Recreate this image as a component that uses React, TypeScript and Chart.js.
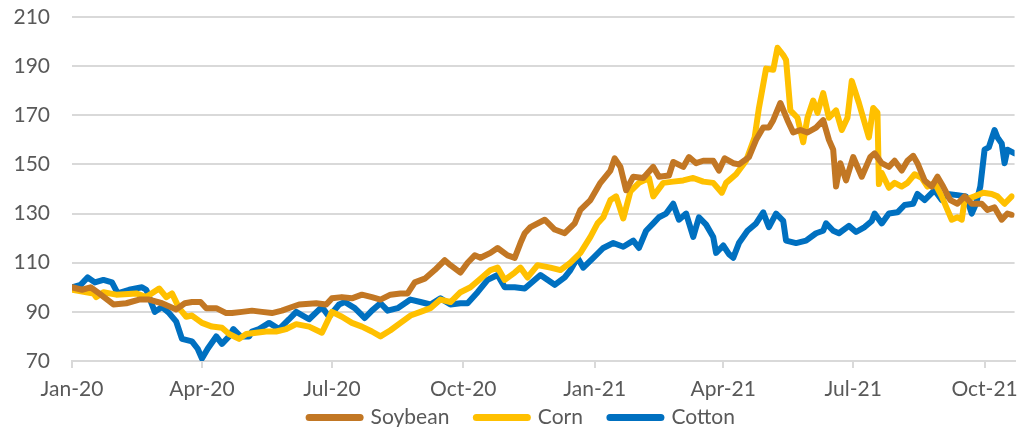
import { useEffect, useRef } from "react";
import { Chart, registerables } from "chart.js";

Chart.register(...registerables);

// Day offsets are counted from 1 Jan 2020
const tickDays = [0, 91, 182, 274, 366, 456, 547, 639];
const tickLabels = ["Jan-20", "Apr-20", "Jul-20", "Oct-20", "Jan-21", "Apr-21", "Jul-21", "Oct-21"];
const yTicks = [70, 90, 110, 130, 150, 170, 190, 210];

const soybeanDays = [0, 7, 13, 19, 29, 38, 47, 54, 63, 73, 79, 84, 90, 94, 101, 108, 112, 119, 126, 133, 140, 147, 154, 159, 171, 178, 182, 189, 196, 203, 210, 216, 223, 230, 235, 240, 247, 254, 261, 265, 272, 277, 282, 286, 293, 298, 305, 310, 314, 317, 321, 331, 338, 345, 352, 356, 363, 370, 377, 380, 384, 388, 393, 400, 407, 411, 418, 421, 428, 432, 437, 442, 449, 453, 457, 463, 467, 474, 479, 484, 488, 491, 496, 501, 505, 510, 515, 521, 526, 530, 533, 535, 538, 542, 547, 553, 559, 562, 567, 572, 576, 581, 585, 589, 592, 597, 602, 606, 610, 615, 620, 625, 630, 637, 641, 646, 651, 655, 658];
const soybeanValues = [100, 99, 100, 97.5, 93, 93.5, 95, 95, 93.5, 91, 93.5, 94, 94, 91.5, 91.5, 89.5, 89.5, 90, 90.5, 90, 89.5, 90.5, 92, 93, 93.5, 93, 95.5, 96, 95.5, 97, 96, 95, 97, 97.5, 97.5, 102, 103.5, 107, 111, 109, 106, 110, 113, 112, 114, 116, 113, 112, 118, 122, 124.5, 127.5, 123.5, 122, 126, 131.5, 135.5, 142.5, 147.5, 152.5, 149, 139.5, 145, 144.5, 149, 145, 145.5, 151, 149, 153, 150.5, 151.5, 151.5, 147.5, 152.5, 150.5, 150, 153, 160, 165, 165, 168, 175, 168, 163, 164, 163, 165, 168, 160, 156, 141, 150.5, 143.5, 153, 145, 153, 154.5, 150.5, 149, 151.5, 147.5, 151.5, 153.5, 150.5, 143.5, 141, 145, 141, 135.5, 134, 137, 134, 134, 131.5, 132.5, 127.5, 130, 129.5];

const cornDays = [0, 15, 17, 22, 31, 45, 52, 61, 66, 70, 75, 80, 84, 91, 98, 105, 110, 117, 122, 129, 136, 143, 150, 157, 166, 175, 182, 189, 196, 203, 210, 216, 223, 230, 237, 244, 251, 258, 265, 272, 279, 286, 293, 298, 303, 310, 314, 319, 326, 335, 342, 349, 356, 363, 368, 372, 377, 381, 386, 391, 397, 404, 407, 414, 421, 428, 435, 442, 449, 455, 458, 465, 472, 478, 481, 486, 491, 494, 498, 500, 503, 508, 512, 515, 519, 522, 526, 530, 535, 539, 543, 546, 551, 556, 558, 561, 564, 565, 567, 572, 576, 581, 585, 590, 595, 599, 604, 609, 613, 616, 620, 623, 625, 632, 638, 644, 648, 653, 658];
const cornValues = [99, 97.5, 96, 98, 97, 97.5, 96, 99.5, 96, 97.5, 91.5, 88, 88.5, 85.5, 84, 83.5, 81, 79, 81, 81.5, 82, 82, 83, 85, 84, 81.5, 90, 88, 85.5, 84, 82, 80, 82.5, 85.5, 88.5, 90, 91.5, 95, 94, 98, 100, 103.5, 107, 108, 103, 106, 108, 104, 109, 108, 107, 110, 114, 120.5, 126, 128.5, 135.5, 137, 128, 139, 142.5, 144.5, 137, 142.5, 143, 143.5, 144.5, 143, 142.5, 138.5, 142.5, 146, 151.5, 161, 173, 189, 188.5, 197.5, 194.5, 192.5, 172, 169, 159, 169, 176, 171, 179, 169, 172, 164, 169, 184, 175, 165, 161, 173, 171, 142, 146.5, 140.5, 142.5, 141, 142.5, 146, 144.5, 141, 142.5, 137, 131.5, 127.5, 128.5, 127.5, 135.5, 137, 138.5, 138, 137, 134, 137];

const cottonDays = [0, 6, 11, 16, 22, 28, 32, 40, 49, 52, 58, 63, 68, 73, 77, 84, 88, 91, 95, 101, 105, 110, 113, 118, 124, 126, 131, 138, 145, 152, 157, 166, 175, 180, 187, 191, 198, 205, 210, 216, 221, 228, 237, 244, 251, 258, 265, 272, 277, 284, 291, 298, 303, 310, 317, 328, 338, 345, 349, 354, 358, 365, 372, 379, 386, 393, 397, 402, 407, 411, 416, 421, 425, 430, 435, 439, 444, 449, 451, 456, 460, 463, 467, 473, 479, 484, 488, 493, 498, 500, 507, 514, 521, 526, 528, 533, 537, 544, 549, 555, 560, 562, 567, 572, 578, 583, 589, 592, 597, 604, 609, 613, 620, 626, 630, 633, 636, 639, 642, 646, 648, 651, 653, 655, 660];
const cottonValues = [100, 101, 104, 102, 103, 102, 97.5, 99, 100, 99, 90, 92, 89.5, 86, 79, 78, 75, 71, 75, 80, 77, 80, 83, 80, 80, 82, 83, 85.5, 83, 87, 90, 87, 92, 88, 93, 94, 91.5, 87.5, 90.5, 93.5, 90.5, 91.5, 95, 94, 93, 95.5, 93, 93.5, 93.5, 98, 103, 105, 100, 100, 99.5, 105, 101, 104, 107, 112, 108, 112, 116, 118, 116.5, 119, 116, 123, 126, 128.5, 130, 134, 127.5, 130, 120.5, 128.5, 125.5, 120.5, 114, 117, 113.5, 112, 118, 123, 126, 130.5, 124.5, 130, 127, 119, 118, 119, 122, 123, 126, 123, 122, 125, 122.5, 124.5, 127, 130, 126, 130, 130.5, 133.5, 134, 138, 135.5, 139.5, 135.5, 138, 137.5, 137, 130, 134, 141, 156, 157, 164, 161, 158.5, 150.5, 156, 154.5];

const seriesNames = ["Soybean", "Corn", "Cotton"];
const seriesColors = ["#C27724", "#FFC000", "#0070C0"];

const FONT = "Lato, 'Open Sans', sans-serif";
const FONT_SIZE = 21;
const TEXT = "#595959";
const GRID = "#D9D9D9";
const LEGEND_SHIFT_UP = 27;
const LEGEND_SHIFT_RIGHT = 24;

function pairs(days: number[], values: number[]) {
  return days.map((d, i) => ({ x: d, y: values[i] }));
}

// Moves the legend box so its text sits just under the axis labels
const legendShift = {
  id: "legendShift",
  afterLayout(chart: any) {
    if (chart.legend) {
      chart.legend.top -= LEGEND_SHIFT_UP;
      chart.legend.bottom = chart.height;
      chart.legend.left += LEGEND_SHIFT_RIGHT;
    }
  },
};

export default function App() {
  const ref = useRef<HTMLCanvasElement | null>(null);

  useEffect(() => {
    if (!ref.current) return;
    const allDays = [soybeanDays, cornDays, cottonDays];
    const allValues = [soybeanValues, cornValues, cottonValues];
    const chart = new Chart(ref.current, {
      type: "line",
      data: {
        datasets: seriesNames.map((name, i) => ({
          label: name,
          data: pairs(allDays[i], allValues[i]),
          borderColor: seriesColors[i],
          backgroundColor: seriesColors[i],
          borderWidth: 6,
          borderCapStyle: "round",
          borderJoinStyle: "round",
          pointRadius: 0,
          pointStyle: "line",
          tension: 0,
          fill: false,
        })),
      },
      plugins: [legendShift],
      options: {
        animation: false,
        responsive: false,
        maintainAspectRatio: false,
        events: [],
        layout: { padding: { left: 0, right: 7, top: 17, bottom: 0 } },
        plugins: {
          tooltip: { enabled: false },
          legend: {
            position: "bottom",
            maxHeight: 20,
            labels: {
              usePointStyle: true,
              pointStyle: "line",
              pointStyleWidth: 51,
              padding: 27,
              color: TEXT,
              font: { family: FONT, size: FONT_SIZE },
              generateLabels: (c: any) =>
                Chart.defaults.plugins.legend.labels
                  .generateLabels(c)
                  .map((l: any) => ({ ...l, lineWidth: 7, lineCap: "round" })),
            },
          },
        },
        scales: {
          x: {
            type: "linear",
            min: 0,
            max: 660,
            afterFit: (s: any) => {
              s.height = 46;
            },
            afterBuildTicks: (s: any) => {
              s.ticks = tickDays.map((v) => ({ value: v }));
            },
            grid: {
              drawOnChartArea: false,
              drawTicks: true,
              tickLength: 7,
              color: GRID,
              lineWidth: 2,
            },
            border: { display: true, color: GRID, width: 2 },
            ticks: {
              autoSkip: false,
              maxRotation: 0,
              padding: 9,
              color: TEXT,
              font: { family: FONT, size: FONT_SIZE },
              callback: (v: any) => {
                const k = tickDays.indexOf(Number(v));
                return k >= 0 ? tickLabels[k] : "";
              },
            },
          },
          y: {
            min: 70,
            max: 210,
            afterFit: (s: any) => {
              s.width = 72;
              s.paddingTop = 0;
              s.paddingBottom = 0;
            },
            afterBuildTicks: (s: any) => {
              s.ticks = yTicks.map((v) => ({ value: v }));
            },
            grid: { color: GRID, lineWidth: 2, drawTicks: false },
            border: { display: false },
            ticks: {
              padding: 22,
              color: TEXT,
              font: { family: FONT, size: FONT_SIZE },
            },
          },
        },
      },
    });
    return () => chart.destroy();
  }, []);

  return (
    <div
      style={{
        position: "fixed",
        left: 0,
        top: 0,
        width: 1027,
        height: 427,
        overflow: "hidden",
        background: "#fff",
      }}
    >
      <canvas ref={ref} width={1027} height={427} style={{ display: "block" }} />
    </div>
  );
}
